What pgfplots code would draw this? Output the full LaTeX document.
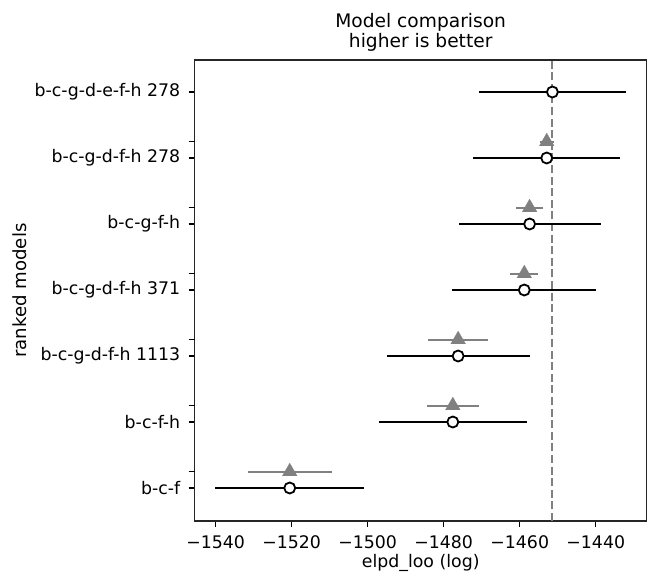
\documentclass[border=0pt]{standalone}
\usepackage{pgfplots}
\pgfplotsset{compat=1.18}
\usepackage{fontspec}
\setmainfont{DejaVu Sans}
\definecolor{mgray}{HTML}{808080}
\newcommand{\mfont}{\fontsize{17.4}{20.5}\selectfont}
\newcommand{\tfont}{\fontsize{18.7}{20}\selectfont}
\begin{document}
\begin{tikzpicture}[font=\mfont]
\useasboundingbox (-194.7bp,-54bp) rectangle (453.3bp,521bp);
\begin{axis}[
  at={(0,0)}, anchor=south west,
  scale only axis, width=452bp, height=461bp,
  xmin=-1545.5, xmax=-1426.6, ymin=-0.5, ymax=6.485,
  axis line style={line width=1.3bp, black!85},
  tick style={line width=1.3bp, black},
  major tick length=6bp,
  tick align=outside,
  xtick pos=bottom, ytick pos=left,
  tick label style={font=\mfont},
  yticklabel style={xshift=-5bp},
  xticklabel style={yshift=-5bp},
  label style={font=\mfont},
  xlabel style={yshift=1bp},
  ylabel style={at={(axis description cs:-0.3865,0.5)}, anchor=center, font=\fontsize{18.2}{21}\selectfont},
  title style={font=\tfont, align=center, yshift=-1bp},
  xtick={-1540,-1520,-1500,-1480,-1460,-1440},
  xticklabels={−1540,−1520,−1500,−1480,−1460,−1440},
  ytick={0,1,2,3,4,5,6},
  yticklabels={b-c-f,b-c-f-h,b-c-g-d-f-h 1113,b-c-g-d-f-h 371,b-c-g-f-h,b-c-g-d-f-h 278,b-c-g-d-e-f-h 278},
  extra y ticks={0.25,1.25,2.25,3.25,4.25,5.25},
  extra y tick labels={},
  xlabel={elpd\_loo (log)},
  ylabel={ranked models},
  title={Model comparison\\higher is better},
  clip=false,
]
\draw[mgray, line width=2bp, dash pattern=on 8bp off 3.6bp] (axis cs:-1451.4,-0.5) -- (axis cs:-1451.4,6.485);
% dse (triangles)
\addplot[mgray, line width=2bp, only marks, mark=triangle*, mark size=8.5bp,
  mark options={fill=mgray, draw=mgray, line width=0.1bp},
  error bars/.cd, x dir=both, x explicit, error mark=none,
  error bar style={mgray, line width=2bp}]
coordinates {
(-1452.9,5.25) +- (1.9,0)
(-1457.4,4.25) +- (3.6,0)
(-1458.8,3.25) +- (3.7,0)
(-1476.2,2.25) +- (7.9,0)
(-1477.6,1.25) +- (6.9,0)
(-1520.5,0.25) +- (11.0,0)
};
% elpd (circles)
\addplot[black, line width=1.8bp, only marks, mark=*, mark size=5.5bp,
  mark options={fill=white, draw=black, line width=1.8bp},
  error bars/.cd, x dir=both, x explicit, error mark=none,
  error bar style={black, line width=1.8bp}]
coordinates {
(-1451.4,6) +- (19.4,0)
(-1452.9,5) +- (19.3,0)
(-1457.4,4) +- (18.7,0)
(-1458.8,3) +- (18.9,0)
(-1476.2,2) +- (18.8,0)
(-1477.6,1) +- (19.4,0)
(-1520.5,0) +- (19.6,0)
};
\end{axis}
\end{tikzpicture}
\end{document}
